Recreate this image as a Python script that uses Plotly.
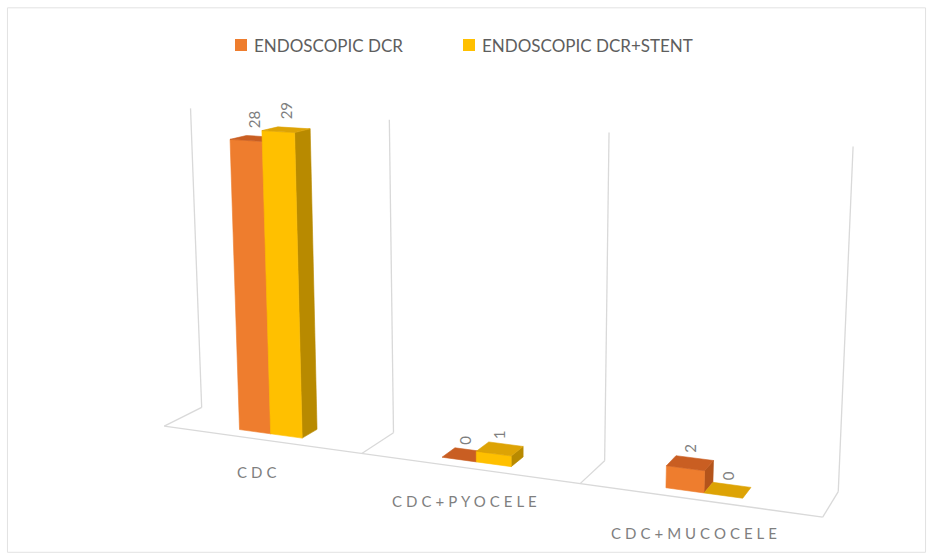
import numpy as np
import plotly.graph_objects as go

# ---------------- data ----------------
categories = ["CDC", "CDC+PYOCELE", "CDC+MUCOCELE"]
series_names = ["ENDOSCOPIC DCR", "ENDOSCOPIC DCR+STENT"]
endoscopic_dcr = [28, 0, 2]
endoscopic_dcr_stent = [29, 1, 0]
value_axis_max = 30

series_values = [endoscopic_dcr, endoscopic_dcr_stent]

# ---------------- style ----------------
W, H = 933, 559
FONT = "Lato"
GRID = "#D9D9D9"
LABEL = "#7F7F7F"
faces = [
    dict(front="#EE7D2E", top="#C95E22", side="#B4541B"),
    dict(front="#FFC000", top="#DDA305", side="#B88A00"),
]
BAR_LEFT = [0.34, 0.50]      # left edge of each series inside a category slot
BAR_W = 0.16                 # bar width as a share of the slot
DEPTH = (0.28, 0.72)         # bar depth range (0 = front edge of floor, 1 = back wall)

# Camera calibration: world corners of the back wall / floor and where they sit on the page.
# world = (slot position, depth, height as a share of the value axis)
frame_world = [(x, 1, 0) for x in range(4)] + [(x, 0, 0) for x in range(4)] + [(x, 1, 1) for x in range(4)]
frame_page = [(203, 405), (392, 431), (605, 462), (838, 495),
              (163, 428), (361, 453), (585, 484), (820, 515),
              (190, 110), (390, 120), (609, 132), (853, 145)]


def fit_camera(world, page):
    w = np.asarray(world, float)
    s = np.asarray(page, float)
    mu = s.mean(0)
    k = np.sqrt(2) / np.mean(np.linalg.norm(s - mu, axis=1))
    T = np.array([[k, 0, -k * mu[0]], [0, k, -k * mu[1]], [0, 0, 1]])
    sn = (s - mu) * k
    rows = []
    for (X, Y, Z), (u, v) in zip(w, sn):
        rows.append([X, Y, Z, 1, 0, 0, 0, 0, -u * X, -u * Y, -u * Z, -u])
        rows.append([0, 0, 0, 0, X, Y, Z, 1, -v * X, -v * Y, -v * Z, -v])
    _, _, vt = np.linalg.svd(np.array(rows))
    return np.linalg.inv(T) @ vt[-1].reshape(3, 4)


CAM = fit_camera(frame_world, frame_page)


def project(x, d, value):
    p = CAM @ np.array([x, d, value / value_axis_max, 1.0])
    return p[0] / p[2], p[1] / p[2]


fig = go.Figure()


def polygon(points, color):
    xy = [project(*p) for p in points]
    xs = [q[0] for q in xy] + [xy[0][0]]
    ys = [q[1] for q in xy] + [xy[0][1]]
    fig.add_trace(go.Scatter(x=xs, y=ys, mode="lines", fill="toself",
                             fillcolor=color, line=dict(color=color, width=0.6),
                             hoverinfo="skip", showlegend=False))


# ---------------- frame: back wall dividers, floor dividers, category axis ----------------
gx, gy = [], []
for i in range(len(categories) + 1):
    for seg in [((i, 1, 0), (i, 1, value_axis_max)), ((i, 1, 0), (i, 0, 0))]:
        a, b = project(*seg[0]), project(*seg[1])
        gx += [a[0], b[0], None]
        gy += [a[1], b[1], None]
a, b = project(0, 0, 0), project(len(categories), 0, 0)
gx += [a[0], b[0]]
gy += [a[1], b[1]]
fig.add_trace(go.Scatter(x=gx, y=gy, mode="lines", line=dict(color=GRID, width=1.3),
                         hoverinfo="skip", showlegend=False))

# ---------------- bars ----------------
d0, d1 = DEPTH
annotations = []
for ci, cat in enumerate(categories):
    for si, vals in enumerate(series_values):
        h = vals[ci]
        x0 = ci + BAR_LEFT[si]
        x1 = x0 + BAR_W
        f = faces[si]
        if h > 0:
            polygon([(x1, d0, 0), (x1, d1, 0), (x1, d1, h), (x1, d0, h)], f["side"])
            polygon([(x0, d0, 0), (x1, d0, 0), (x1, d0, h), (x0, d0, h)], f["front"])
        polygon([(x0, d0, h), (x1, d0, h), (x1, d1, h), (x0, d1, h)], f["top"])
        lx, ly = project((x0 + x1) / 2, (d0 + d1) / 2, h)
        annotations.append(dict(x=lx, y=ly, text=str(h), textangle=-90, showarrow=False,
                                xanchor="center", yanchor="bottom", yshift=8,
                                font=dict(family=FONT, size=15, color=LABEL)))
    # category label under the front edge
    cx, cy = project(ci + 0.5, 0, 0)
    annotations.append(dict(x=cx, y=cy, xshift=-2, yshift=-33, showarrow=False,
                            xanchor="center", yanchor="middle",
                            text=f"<span style='letter-spacing:4px'>{cat}</span>",
                            font=dict(family=FONT, size=15, color=LABEL)))

# ---------------- legend ----------------
legend_x = [235, 463]
shapes = [dict(type="rect", xref="paper", yref="paper", x0=0.008, x1=0.992, y0=0.012, y1=0.986,
               line=dict(color="#E2E2E2", width=1), fillcolor="rgba(0,0,0,0)", layer="below")]
for si, name in enumerate(series_names):
    lx = legend_x[si]
    shapes.append(dict(type="rect", xref="x", yref="y", x0=lx, x1=lx + 12, y0=39, y1=51,
                       fillcolor=faces[si]["front"], line=dict(width=0)))
    annotations.append(dict(x=lx + 17, y=45, text=name, showarrow=False,
                            xanchor="left", yanchor="middle",
                            font=dict(family=FONT, size=17, color="#5E5E5E")))

fig.update_layout(
    width=W, height=H,
    margin=dict(l=0, r=0, t=0, b=0),
    paper_bgcolor="white", plot_bgcolor="white",
    xaxis=dict(range=[0, W], visible=False, fixedrange=True),
    yaxis=dict(range=[H, 0], visible=False, fixedrange=True),
    annotations=annotations, shapes=shapes,
    showlegend=False, hovermode=False,
)

fig.write_html("out.html")
